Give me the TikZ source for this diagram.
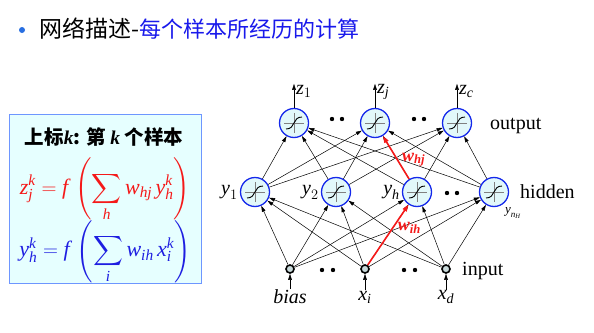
\documentclass[tikz,border=0pt]{standalone}
\usepackage{amsmath}
\usepackage{fontspec}
\setmainfont{Liberation Serif}
\newfontfamily\cjk{Noto Sans CJK SC}
\usetikzlibrary{arrows.meta,positioning}

\definecolor{nodeblue}{RGB}{20,40,235}
\definecolor{nodefill}{RGB}{226,248,250}
\definecolor{boxfill}{RGB}{230,255,255}
\definecolor{boxline}{RGB}{110,150,255}
\definecolor{wred}{RGB}{245,25,25}
\definecolor{eqblue}{RGB}{30,30,225}
\definecolor{titleblue}{RGB}{25,25,235}
\definecolor{bulletblue}{RGB}{40,110,225}

% Times-like italic letters inside math.
\newcommand{\vi}[1]{\textit{#1}}
\newcommand{\vb}[1]{\textbf{\textit{#1}}}

\def\ppc{path picture bounding box.center}
\tikzset{
  neuron/.style={circle, draw=nodeblue, line width=1.3pt, fill=nodefill,
    minimum size=29pt, inner sep=0pt,
    path picture={
      \draw[gray, line width=0.8pt] ([xshift=-10pt]\ppc) -- ([xshift=10pt]\ppc);
      \draw[gray, line width=0.8pt] ([yshift=-10pt]\ppc) -- ([yshift=10pt]\ppc);
      \draw[black, line width=0.9pt] ([shift={(-8pt,-6pt)}]\ppc)
        .. controls ([shift={(2pt,-6pt)}]\ppc) and ([shift={(-2pt,6pt)}]\ppc)
        .. ([shift={(8pt,6pt)}]\ppc);
    }},
  inputnode/.style={circle, draw=black, line width=1.6pt, fill=nodefill!75!gray,
    minimum size=8pt, inner sep=0pt},
  blob/.style={circle, fill=black, minimum size=4.4pt, inner sep=0pt},
  link/.style={-{Triangle[length=6pt,width=3.6pt]}, line width=0.5pt},
  wlink/.style={-{Triangle[length=7pt,width=4.5pt]}, line width=1.6pt, draw=wred},
  lab/.style={font=\fontsize{20}{22}\selectfont, inner sep=1pt},
  wlab/.style={text=wred, font=\fontsize{18}{20}\selectfont, inner sep=1pt},
  eq/.style={font=\fontsize{22}{24}\selectfont, inner sep=0pt}
}

\begin{document}
\begin{tikzpicture}[x=1pt, y=-1pt]

  \useasboundingbox (0,0) rectangle (594,332);

  % Title line.
  \node[circle, fill=bulletblue, minimum size=6pt, inner sep=0pt] (bullet) at (22,30) {};
  \node[anchor=west, inner sep=0pt, font=\cjk\fontsize{23}{26}\selectfont] (title) at (39,29)
    {网络描述-{\color{titleblue}\fontsize{22}{24}\selectfont 每个样本所经历的计算}};

  % Formula box.
  \draw[draw=boxline, fill=boxfill, line width=0.8pt] (9,114) rectangle (201,283);
  \node[font=\cjk\bfseries\fontsize{19.5}{22}\selectfont] (head) at (104,137)
    {上标{\rmfamily\bfseries\itshape k}: 第 {\rmfamily\bfseries\itshape k} 个样本};
  \node[eq, text=wred] (eqz) at (105,190)
    {$\displaystyle \vi{z}_{\vi{j}}^{\vi{k}} = \vi{f}\,\left(\sum_{\vi{h}} \vi{w}_{\vi{hj}}\, \vi{y}_{\vi{h}}^{\vi{k}}\right)$};
  \node[eq, text=eqblue] (eqy) at (105,252)
    {$\displaystyle \vi{y}_{\vi{h}}^{\vi{k}} = \vi{f}\,\left(\sum_{\vi{i}} \vi{w}_{\vi{ih}}\, \vi{x}_{\vi{i}}^{\vi{k}}\right)$};

  % Output layer.
  \node[neuron] (out1) at (294,123) {};
  \node[neuron] (outj) at (375,123) {};
  \node[neuron] (outc) at (457,123) {};

  % Hidden layer.
  \node[neuron] (hid1) at (255,192) {};
  \node[neuron] (hid2) at (336,192) {};
  \node[neuron] (hidh) at (417,192) {};
  \node[neuron] (hidn) at (494,192) {};

  % Input layer.
  \node[inputnode] (in1) at (290,269) {};
  \node[inputnode] (ini) at (365,269) {};
  \node[inputnode] (ind) at (446,269) {};

  % Dots between units.
  \foreach \x/\y in {332/119, 342/119, 414/119, 424/119,
                     447/193, 457/193,
                     322/270, 333/270, 404/270, 415/270} {
    \node[blob] at (\x,\y) {};
  }

  % Input to hidden.
  \foreach \i in {in1,ini,ind}
    \foreach \h in {hid1,hid2,hidh,hidn}
      \draw[link] (\i) -- (\h);

  % Hidden to output.
  \foreach \h in {hid1,hid2,hidh,hidn}
    \foreach \o in {out1,outj,outc}
      \draw[link] (\h) -- (\o);

  % Highlighted weights.
  \draw[wlink] (ini) -- (hidh)
    node[wlab, pos=0.62, right=3pt] {$\vb{w}_{\vb{ih}}$};
  \draw[wlink] (hidh) -- (outj)
    node[wlab, pos=0.45, right=3pt] {$\vb{w}_{\vb{hj}}$};

  % Outputs.
  \foreach \o/\t in {out1/1, outj/\vi{j}, outc/\vi{c}} {
    \coordinate (\o-top) at ([yshift=24pt]\o.north);
    \draw[link] (\o.north) -- (\o-top);
    \node[lab, anchor=west] at ([shift={(1pt,-8pt)}]\o-top) {$\vi{z}_{\t}$};
  }

  % Inputs.
  \node[lab] (bias) at (290,297) {\itshape bias};
  \node[lab] (xi)   at (365,297) {$\vi{x}_{\vi{i}}$};
  \node[lab] (xd)   at (446,297) {$\vi{x}_{\vi{d}}$};
  \foreach \l/\n in {bias/in1, xi/ini, xd/ind}
    \draw[link] (\l) -- (\n);

  % Unit labels.
  \node[lab, left=1pt of hid1] {$\vi{y}_{1}$};
  \node[lab, left=1pt of hid2] {$\vi{y}_{2}$};
  \node[lab, left=1pt of hidh] {$\vi{y}_{\vi{h}}$};
  \node[font=\fontsize{13}{14}\selectfont] at (513,213) {$\vi{y}_{\vi{n}_{\vi{H}}}$};

  % Layer names.
  \node[lab, anchor=west] (outname) at (489,126) {output};
  \node[lab, anchor=west] (hidname) at (519,192) {hidden};
  \node[lab, anchor=west] (inname)  at (461,271) {input};

\end{tikzpicture}
\end{document}
